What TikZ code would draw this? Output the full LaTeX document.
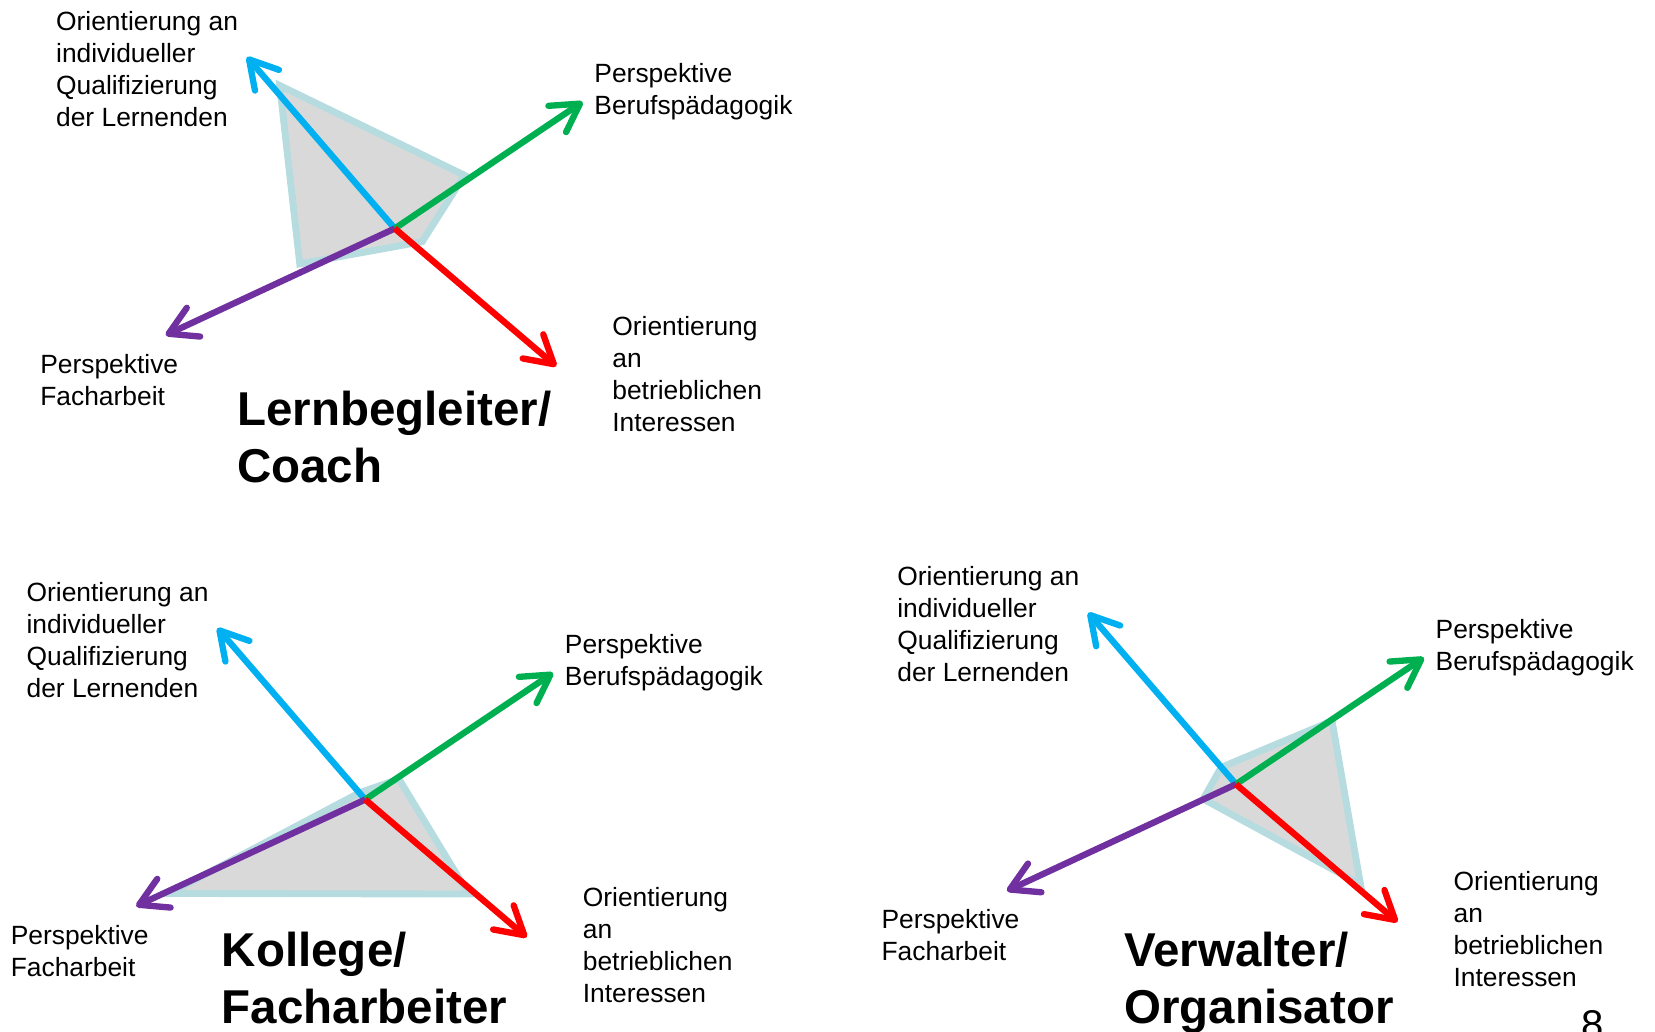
\documentclass[tikz,border=0pt]{standalone}
\usepackage{fontspec}
\setmainfont{Liberation Sans}
\usetikzlibrary{arrows.meta}

\definecolor{axblue}{HTML}{00B0F0}
\definecolor{axgreen}{HTML}{00B050}
\definecolor{axred}{HTML}{FF0000}
\definecolor{axpurple}{HTML}{7030A0}
\definecolor{profileline}{HTML}{B6DCE0}
\definecolor{profilefill}{HTML}{D9D9D9}

% multi-line nodes are placed by the baseline of their last line
\tikzset{
  axis/.style={line width=6pt, -{Straight Barb[length=26pt,width=30pt,round]}},
  profile/.style={draw=profileline, fill=profilefill, line width=6.5pt, line join=miter},
  lbl/.style={anchor=base west, inner sep=0pt, align=left,
              font=\fontsize{25}{30.3}\selectfont},
  role/.style={anchor=base west, inner sep=0pt, align=left,
               font=\fontsize{45}{54}\selectfont\bfseries},
}

% One role profile: four axes from a common centre, the shaded profile and the axis labels.
% #1 name prefix, #2 shift, #3--#6 profile corners on the blue, green, red and purple axes
\newcommand\rolestar[6]{%
\begin{scope}[shift={#2}, name prefix=#1-]
  \coordinate (c)  at (374,216.5);
  \coordinate (tq) at (234,54);
  \coordinate (tb) at (552,96.5);
  \coordinate (ti) at (527,347);
  \coordinate (tf) at (157,317.5);
  \coordinate (vq) at #3;
  \coordinate (vb) at #4;
  \coordinate (vi) at #5;
  \coordinate (vf) at #6;
  \filldraw[profile] (vq) -- (vb) -- (vi) -- (vf) -- cycle;
  \draw[axis, axblue]   (c) -- (tq);
  \draw[axis, axgreen]  (c) -- (tb);
  \draw[axis, axpurple] (c) -- (tf);
  \draw[axis, axred]    (c) -- (ti);
  \node[lbl] (lq) at (53,119.4)  {Orientierung an\\individueller\\Qualifizierung\\der Lernenden};
  \node[lbl] (lb) at (563,108.8) {Perspektive\\Berufspädagogik};
  \node[lbl] (lf) at (38,383.8)  {Perspektive\\Facharbeit};
  \node[lbl] (li) at (580,408.4) {Orientierung\\an\\betrieblichen\\Interessen};
\end{scope}}

\begin{document}
\begin{tikzpicture}[x=1pt, y=-1pt]
  \useasboundingbox (0,0) rectangle (1568,977);

  % Lernbegleiter / Coach
  \rolestar{coach}{(0,0)}{(265,81)}{(440,166)}{(400,229)}{(284,250)}
  \node[role] (tcoach) at (224.5,457) {Lernbegleiter/\\Coach};

  % Kollege / Facharbeiter
  \rolestar{koll}{(-28,541)}{(368.8,210)}{(406,197)}{(472,306)}{(188,305.5)}
  \node[role] (tkoll) at (210,970) {Kollege/\\Facharbeiter};

  % Verwalter / Organisator
  \rolestar{verw}{(797,526.5)}{(360,200.5)}{(465,156.5)}{(492,311.5)}{(343,230.5)}
  \node[role] (tverw) at (1065,970) {Verwalter/\\Organisator};

  % page number
  \node[anchor=base west, inner sep=0pt, font=\fontsize{38}{44}\selectfont] (pnum) at (1498,984) {8};
\end{tikzpicture}
\end{document}
